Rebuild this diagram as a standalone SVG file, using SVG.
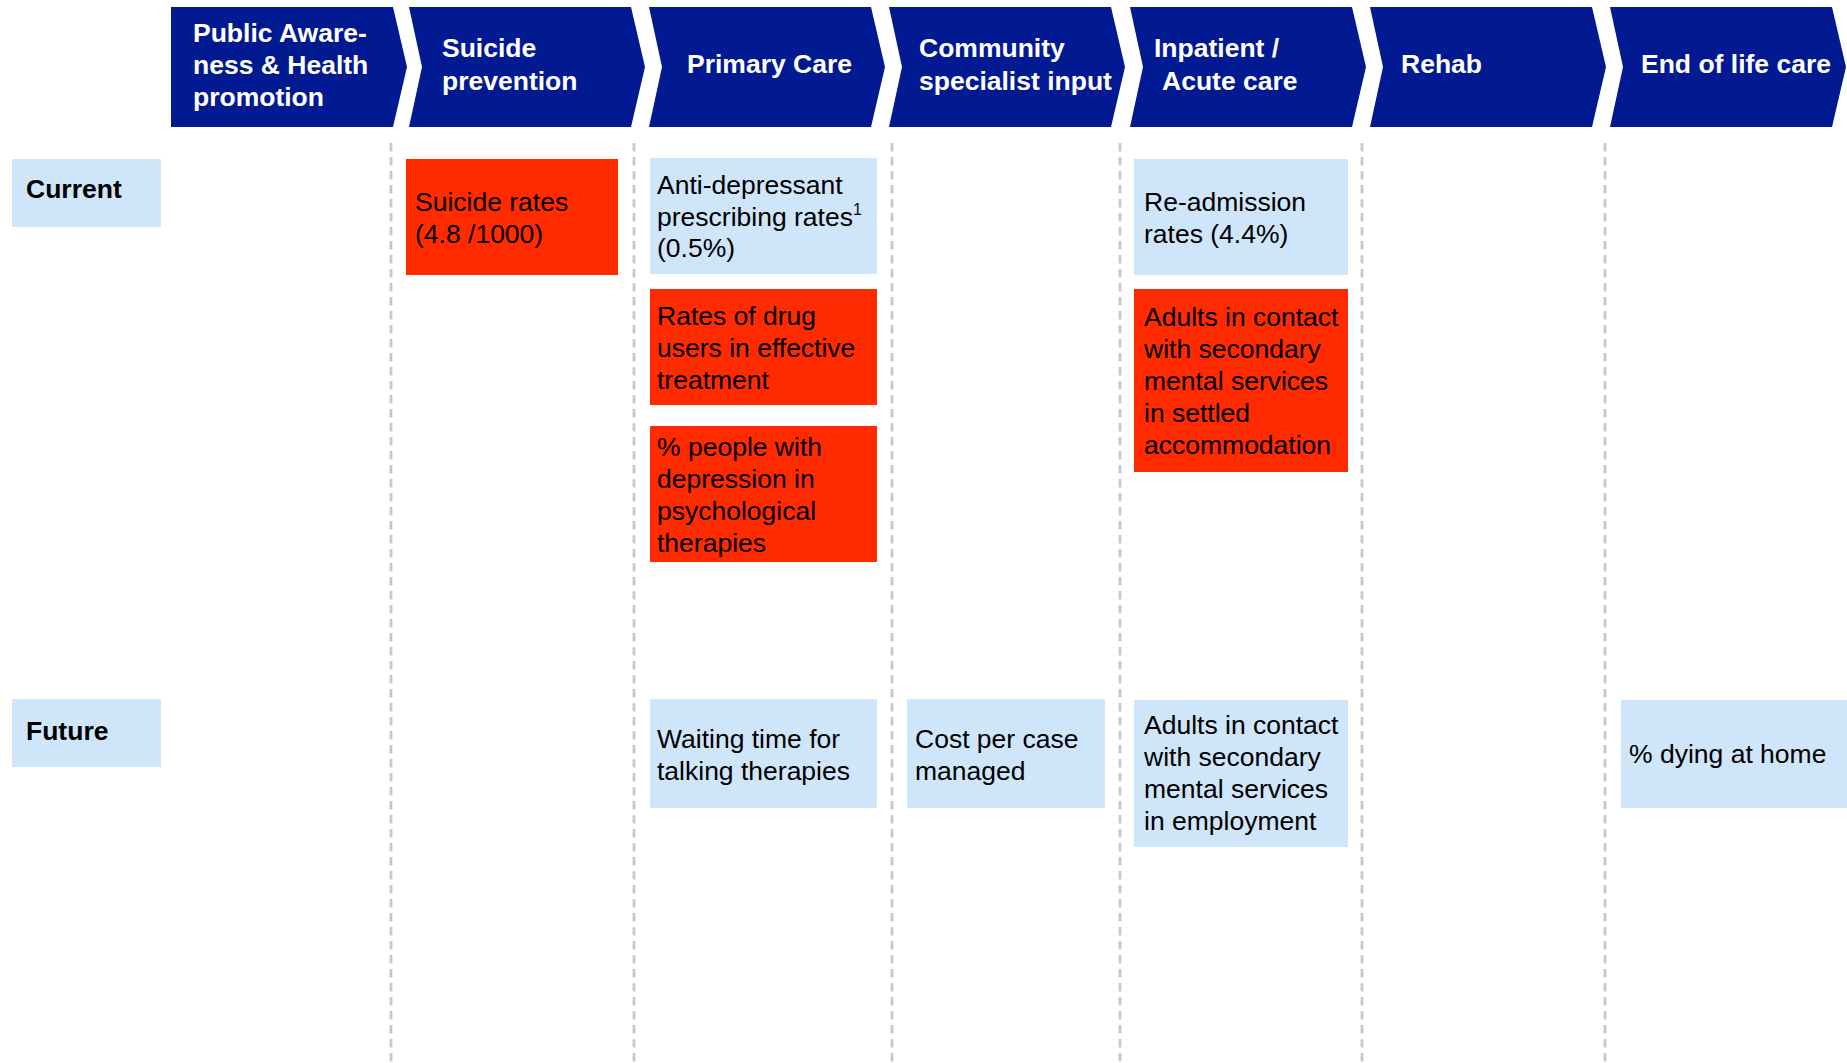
<svg xmlns="http://www.w3.org/2000/svg" xmlns:xlink="http://www.w3.org/1999/xlink" width="1847" height="1063" viewBox="0 0 1847 1063">
<style>
.hd{fill:#021A91}
.ht{font-family:"Liberation Sans",Arial,sans-serif;font-weight:bold;font-size:26.5px;fill:#fff}
.lb{fill:#CFE5F9}
.rd{fill:#FF2A00}
.t{font-family:"Liberation Sans",Arial,sans-serif;font-size:26.5px;fill:#000}
.tb{font-family:"Liberation Sans",Arial,sans-serif;font-size:26.5px;font-weight:bold;fill:#000}
.sep{stroke:#C8C8C8;stroke-width:2.8;stroke-dasharray:8.5 5.5;fill:none}
</style>
<defs>
<path id="chev" d="M0,7 H222 L236,67 L222,127 H0 L13,67 Z"/>
<path id="chev0" d="M0,7 H222 L236,67 L222,127 H0 Z"/>
</defs>
<rect width="1847" height="1063" fill="#fff"/>
<g id="separators">
<line class="sep" x1="391" y1="143" x2="391" y2="1063"/>
<line class="sep" x1="634" y1="143" x2="634" y2="1063"/>
<line class="sep" x1="892" y1="143" x2="892" y2="1063"/>
<line class="sep" x1="1120" y1="143" x2="1120" y2="1063"/>
<line class="sep" x1="1362" y1="143" x2="1362" y2="1063"/>
<line class="sep" x1="1605" y1="143" x2="1605" y2="1063"/>
</g>
<g id="connectors"></g>
<g id="h1"><use xlink:href="#chev0" class="hd" x="171"/><text class="ht" x="193" y="42">Public Aware-</text><text class="ht" x="193" y="74">ness &amp; Health</text><text class="ht" x="193" y="106">promotion</text></g>
<g id="h2"><use xlink:href="#chev" class="hd" x="409"/><text class="ht" x="442" y="57">Suicide</text><text class="ht" x="442" y="90">prevention</text></g>
<g id="h3"><use xlink:href="#chev" class="hd" x="649"/><text class="ht" x="687" y="73">Primary Care</text></g>
<g id="h4"><use xlink:href="#chev" class="hd" x="889"/><text class="ht" x="919" y="57">Community</text><text class="ht" x="919" y="90">specialist input</text></g>
<g id="h5"><use xlink:href="#chev" class="hd" x="1130"/><text class="ht" x="1154" y="57">Inpatient /</text><text class="ht" x="1162" y="90">Acute care</text></g>
<g id="h6"><use xlink:href="#chev" class="hd" x="1370"/><text class="ht" x="1401" y="73">Rehab</text></g>
<g id="h7"><use xlink:href="#chev" class="hd" x="1610"/><text class="ht" x="1641" y="73">End of life care</text></g>

<g id="current"><rect class="lb" x="12" y="159" width="149" height="68"/><text class="tb" x="26" y="198">Current</text></g>
<g id="future"><rect class="lb" x="12" y="699" width="149" height="68"/><text class="tb" x="26" y="740">Future</text></g>

<g id="suicide-rates"><rect class="rd" x="406" y="159" width="212" height="116"/><text class="t" x="415" y="211">Suicide rates</text><text class="t" x="415" y="243">(4.8 /1000)</text></g>
<g id="antidepressant"><rect class="lb" x="650" y="158" width="227" height="116"/><text class="t" x="657" y="194">Anti-depressant</text><text class="t" x="657" y="226">prescribing rates<tspan font-size="16" dy="-11">1</tspan></text><text class="t" x="657" y="257">(0.5%)</text></g>
<g id="drug-users"><rect class="rd" x="650" y="289" width="227" height="116"/><text class="t" x="657" y="325">Rates of drug</text><text class="t" x="657" y="357">users in effective</text><text class="t" x="657" y="389">treatment</text></g>
<g id="depression"><rect class="rd" x="650" y="426" width="227" height="136"/><text class="t" x="657" y="456">% people with</text><text class="t" x="657" y="488">depression in</text><text class="t" x="657" y="520">psychological</text><text class="t" x="657" y="552">therapies</text></g>
<g id="readmission"><rect class="lb" x="1134" y="159" width="214" height="116"/><text class="t" x="1144" y="211">Re-admission</text><text class="t" x="1144" y="243">rates (4.4%)</text></g>
<g id="settled"><rect class="rd" x="1134" y="289" width="214" height="183"/><text class="t" x="1144" y="326">Adults in contact</text><text class="t" x="1144" y="358">with secondary</text><text class="t" x="1144" y="390">mental services</text><text class="t" x="1144" y="422">in settled</text><text class="t" x="1144" y="454">accommodation</text></g>

<g id="waiting"><rect class="lb" x="650" y="699" width="227" height="109"/><text class="t" x="657" y="748">Waiting time for</text><text class="t" x="657" y="780">talking therapies</text></g>
<g id="cost"><rect class="lb" x="907" y="699" width="198" height="109"/><text class="t" x="915" y="748">Cost per case</text><text class="t" x="915" y="780">managed</text></g>
<g id="employment"><rect class="lb" x="1134" y="700" width="214" height="147"/><text class="t" x="1144" y="734">Adults in contact</text><text class="t" x="1144" y="766">with secondary</text><text class="t" x="1144" y="798">mental services</text><text class="t" x="1144" y="830">in employment</text></g>
<g id="dying"><rect class="lb" x="1621" y="700" width="226" height="108"/><text class="t" x="1629" y="763">% dying at home</text></g>
</svg>
